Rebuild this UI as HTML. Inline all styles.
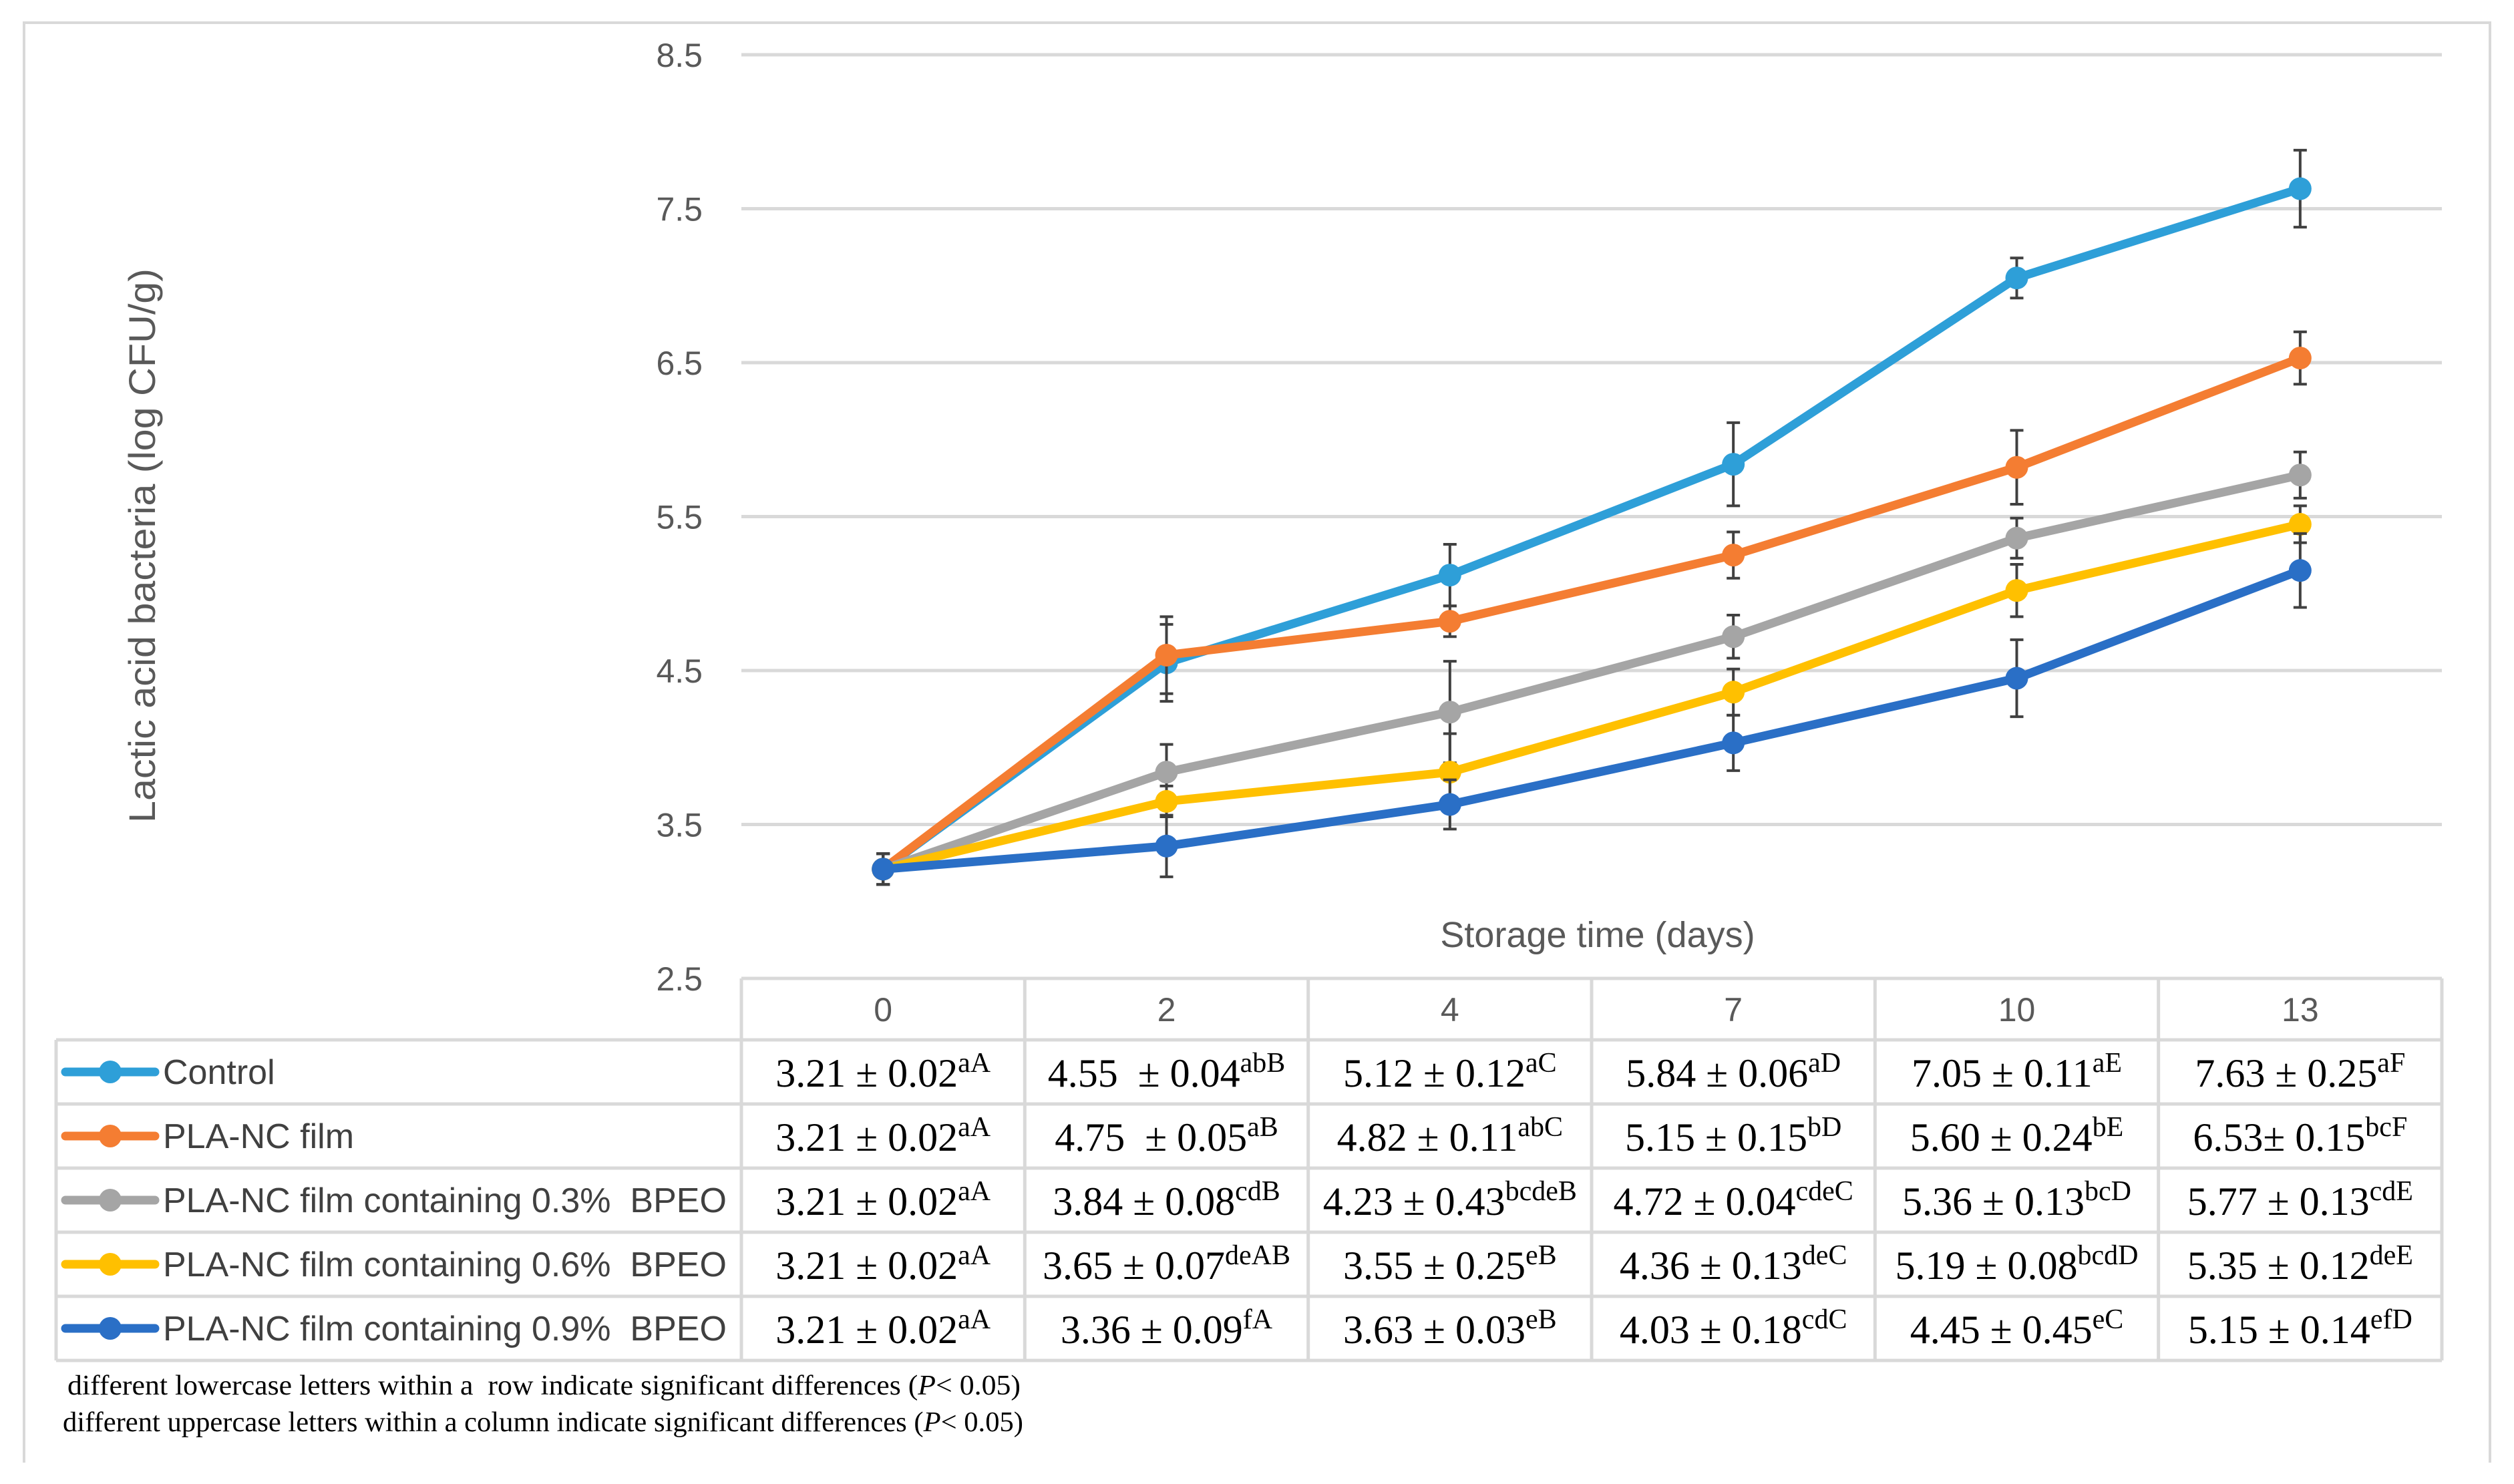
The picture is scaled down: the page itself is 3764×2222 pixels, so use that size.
<!DOCTYPE html>
<html><head><meta charset="utf-8">
<style>
html,body{margin:0;padding:0;background:#fff;}
svg{display:block;}
text{white-space:pre;}
</style></head>
<body>
<svg id="chart" width="3764" height="2222" viewBox="0 0 3764 2222" xmlns="http://www.w3.org/2000/svg">
<rect x="0" y="0" width="3764" height="2222" fill="#fff"/>
<path d="M36 2190 V34 H3728 V2190" fill="none" stroke="#d9d9d9" stroke-width="4"/>
<g id="grid"></g>
<g id="ylabels"></g>
<text x="232" y="817" transform="rotate(-90 232 817)" text-anchor="middle" font-family="'Liberation Sans',sans-serif" font-size="56" fill="#595959" textLength="830" lengthAdjust="spacingAndGlyphs">Lactic acid bacteria (log CFU/g)</text>
<text x="2392" y="1418" text-anchor="middle" font-family="'Liberation Sans',sans-serif" font-size="54" fill="#595959">Storage time (days)</text>
<g id="series"></g>
<g id="table"></g>
<text x="101" y="2088" font-family="'Liberation Serif',serif" font-size="42" fill="#000" textLength="1427" lengthAdjust="spacingAndGlyphs">different lowercase letters within a  row indicate significant differences (<tspan font-style="italic">P</tspan>&lt; 0.05)</text>
<text x="94" y="2143" font-family="'Liberation Serif',serif" font-size="42" fill="#000" textLength="1438" lengthAdjust="spacingAndGlyphs">different uppercase letters within a column indicate significant differences (<tspan font-style="italic">P</tspan>&lt; 0.05)</text>
</svg>
<script>
const categories = ["0","2","4","7","10","13"];
const yTicks = [2.5,3.5,4.5,5.5,6.5,7.5,8.5];
const seriesNames = ["Control","PLA-NC film","PLA-NC film containing 0.3%  BPEO","PLA-NC film containing 0.6%  BPEO","PLA-NC film containing 0.9%  BPEO"];
const seriesColors = ["#2e9fd8","#f47d32","#a5a5a5","#ffc000","#2a6fc6"];
const controlVals = [3.21,4.55,5.12,5.84,7.05,7.63];
const plaVals = [3.21,4.60,4.82,5.25,5.82,6.53];
const bpeo03Vals = [3.21,3.84,4.23,4.72,5.36,5.77];
const bpeo06Vals = [3.21,3.65,3.84,4.36,5.02,5.45];
const bpeo09Vals = [3.21,3.36,3.63,4.03,4.45,5.15];
const controlErr = [0.1,0.25,0.2,0.27,0.13,0.25];
const plaErr = [0.1,0.25,0.1,0.15,0.24,0.17];
const bpeo03Err = [0.1,0.18,0.33,0.14,0.13,0.15];
const bpeo06Err = [0.1,0.1,0.25,0.15,0.17,0.12];
const bpeo09Err = [0.1,0.2,0.16,0.18,0.25,0.24];
const tableMain = [
 ["3.21 ± 0.02","4.55  ± 0.04","5.12 ± 0.12","5.84 ± 0.06","7.05 ± 0.11","7.63 ± 0.25"],
 ["3.21 ± 0.02","4.75  ± 0.05","4.82 ± 0.11","5.15 ± 0.15","5.60 ± 0.24","6.53± 0.15"],
 ["3.21 ± 0.02","3.84 ± 0.08","4.23 ± 0.43","4.72 ± 0.04","5.36 ± 0.13","5.77 ± 0.13"],
 ["3.21 ± 0.02","3.65 ± 0.07","3.55 ± 0.25","4.36 ± 0.13","5.19 ± 0.08","5.35 ± 0.12"],
 ["3.21 ± 0.02","3.36 ± 0.09","3.63 ± 0.03","4.03 ± 0.18","4.45 ± 0.45","5.15 ± 0.14"]];
const tableSup = [
 ["aA","abB","aC","aD","aE","aF"],
 ["aA","aB","abC","bD","bE","bcF"],
 ["aA","cdB","bcdeB","cdeC","bcD","cdE"],
 ["aA","deAB","eB","deC","bcdD","deE"],
 ["aA","fA","eB","cdC","eC","efD"]];
const allVals=[controlVals,plaVals,bpeo03Vals,bpeo06Vals,bpeo09Vals];
const allErr=[controlErr,plaErr,bpeo03Err,bpeo06Err,bpeo09Err];
const NS="http://www.w3.org/2000/svg";
const plotL=1110, plotR=3656, yTop=82, yBot=1465, vMin=2.5, vMax=8.5;
const colW=(plotR-plotL)/categories.length;
function xPos(i){return plotL+colW*(i+0.5);}
function yPos(v){return yBot-(v-vMin)/(vMax-vMin)*(yBot-yTop);}
function mk(tag,attrs,parent){const e=document.createElementNS(NS,tag);for(const k in attrs)e.setAttribute(k,attrs[k]);parent.appendChild(e);return e;}
const grid=document.getElementById('grid'), yl=document.getElementById('ylabels');
yTicks.forEach(t=>{
 const l=mk('line',{x1:plotL,x2:plotR,y1:yPos(t),y2:yPos(t),stroke:'#d9d9d9','stroke-width':5},grid);
 
 
 const tx=mk('text',{x:1052,y:yPos(t)+18,'text-anchor':'end','font-family':"'Liberation Sans',sans-serif",'font-size':50,fill:'#595959'},yl);
 tx.textContent=t.toFixed(1);
 
 
});
const sg=document.getElementById('series');
allVals.forEach((vals,s)=>{
 const g=mk('g',{},sg);
 
 
 vals.forEach((v,i)=>{
  const e=allErr[s][i],x=xPos(i);
  const eb=mk('path',{d:`M${x} ${yPos(v+e)}V${yPos(v-e)}M${x-10} ${yPos(v+e)}H${x+10}M${x-10} ${yPos(v-e)}H${x+10}`,stroke:'#404040','stroke-width':4,fill:'none'},g);
  
  
 });
 const pl=mk('polyline',{points:vals.map((v,i)=>xPos(i)+','+yPos(v)).join(' '),fill:'none',stroke:seriesColors[s],'stroke-width':13,'stroke-linejoin':'round'},g);
 
 
 vals.forEach((v,i)=>{
  const c=mk('circle',{cx:xPos(i),cy:yPos(v),r:17,fill:seriesColors[s]},g);
  
  
 });
});
const tb=document.getElementById('table');
const rowTop=1465, headH=92, rowH=96, legL=84;
const lc='#d9d9d9';
mk('line',{x1:plotL,x2:plotR,y1:rowTop,y2:rowTop,stroke:lc,'stroke-width':5},tb);
for(let r=0;r<=5;r++){const y=rowTop+headH+r*rowH;mk('line',{x1:legL,x2:plotR,y1:y,y2:y,stroke:lc,'stroke-width':5},tb);}
mk('line',{x1:legL,x2:legL,y1:rowTop+headH,y2:rowTop+headH+5*rowH,stroke:lc,'stroke-width':5},tb);
for(let c=0;c<=6;c++){const x=plotL+c*colW;mk('line',{x1:x,x2:x,y1:rowTop,y2:rowTop+headH+5*rowH,stroke:lc,'stroke-width':5},tb);}
categories.forEach((c,i)=>{
 const t=mk('text',{x:xPos(i),y:rowTop+headH/2+18,'text-anchor':'middle','font-family':"'Liberation Sans',sans-serif",'font-size':50,fill:'#595959'},tb);
 t.textContent=c;
 
 
});
seriesNames.forEach((n,r)=>{
 const cy=rowTop+headH+r*rowH+rowH/2;
 const lg=mk('g',{},tb);
 
 
 mk('line',{x1:98,x2:232,y1:cy,y2:cy,stroke:seriesColors[r],'stroke-width':13,'stroke-linecap':'round'},lg);
 mk('circle',{cx:165,cy:cy,r:17,fill:seriesColors[r]},lg);
 const t=mk('text',{x:244,y:cy+18,'font-family':"'Liberation Sans',sans-serif",'font-size':52,fill:'#404040'},lg);
 t.textContent=n;
 categories.forEach((c,i)=>{
  const ct=mk('text',{x:xPos(i),y:cy+22,'text-anchor':'middle','font-family':"'Liberation Serif',serif",'font-size':60,fill:'#000'},tb);
  
  
  const m=mk('tspan',{},ct);m.textContent=tableMain[r][i];
  const s=mk('tspan',{dy:-22,'font-size':42},ct);s.textContent=tableSup[r][i];
 });
});
</script>
</body></html>
